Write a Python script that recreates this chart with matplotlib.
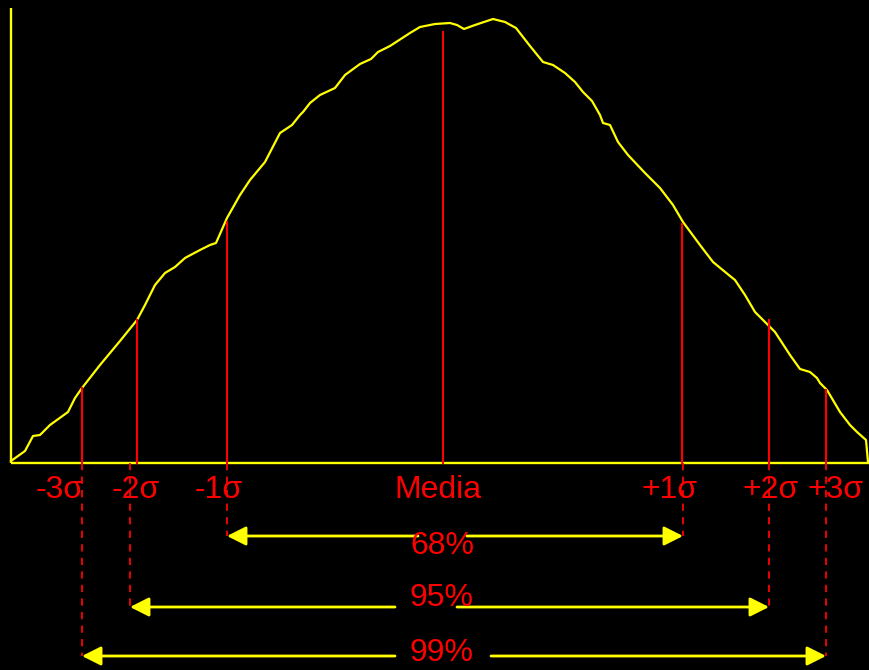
import matplotlib.pyplot as plt
import numpy as np

# curve: x position, height above the baseline
curve_x = [11, 25, 33, 40, 50, 68, 75, 82, 100, 120, 137, 145, 155, 165, 175, 185,
           200, 210, 216, 227, 240, 250, 265, 280, 292, 300, 303, 310, 320, 335, 345,
           360, 371, 378, 390, 410, 420, 435, 450, 457, 464, 475, 493, 505, 516, 530,
           543, 553, 565, 575, 583, 592, 600, 603, 610, 618, 628, 645, 660, 673, 683,
           700, 713, 730, 735, 745, 755, 765, 775, 790, 800, 810, 817, 820, 827, 840,
           850, 857, 866, 868]
curve_h = [2, 12, 27, 28, 38, 51, 65, 75, 98, 122, 143, 158, 178, 190, 196, 205,
           213, 218, 220, 245, 268, 283, 301, 330, 338, 348, 351, 360, 368, 375, 388,
           399, 404, 411, 417, 430, 436, 439, 440, 438, 434, 438, 444, 441, 435, 417,
           401, 398, 390, 381, 371, 362, 348, 340, 338, 321, 308, 290, 275, 258, 241,
           218, 201, 187, 183, 168, 151, 141, 131, 108, 94, 91, 85, 80, 73, 51,
           38, 31, 23, 1]

# vertical markers under the curve
mark_x = [82, 137, 227, 443, 682, 769, 826]
mark_h = [75, 143, 241, 431, 239, 143, 73]
labels = ['-3σ', '-2σ', '-1σ', 'Media', '+1σ', '+2σ', '+3σ']
label_x = [60, 136, 219, 438, 670, 771, 836]

# brackets: percentage, left end, right end, depth below baseline, text gap
pct = ['68%', '95%', '99%']
left_x = [227, 130, 82]
right_x = [683, 769, 826]
depth = [73, 144, 193]
gap_l = [418, 395, 395]
gap_r = [467, 457, 491]
text_depth = [83, 135, 190]

yellow = '#ffff00'
red = '#ff0000'

fig = plt.figure(figsize=(8.7, 6.7), dpi=100, facecolor='black')
ax = fig.add_axes([0, 0, 1, 1])
ax.set_facecolor('black')
ax.set_xlim(0, 870)
ax.set_ylim(-207, 463)
ax.axis('off')

# axes lines
ax.plot([11, 11], [0, 455], color=yellow, lw=1.7, solid_capstyle='butt')
ax.plot([11, 870], [0, 0], color=yellow, lw=1.7, solid_capstyle='butt')

ax.plot(curve_x, curve_h, color=yellow, lw=1.6, solid_joinstyle='round')

for x, h in zip(mark_x, mark_h):
    ax.plot([x, x], [0, h], color=red, lw=1.5)

for lx, rx, d in zip(left_x, right_x, depth):
    for x in (lx, rx):
        ax.plot([x, x], [0, -d], color=red, lw=1.3, dashes=(4, 3.5))

for lab, x in zip(labels, label_x):
    ax.text(x, -27, lab, color=red, fontsize=23, family='Liberation Sans',
            ha='center', va='center')

for p, lx, rx, d, gl, gr, td in zip(pct, left_x, right_x, depth, gap_l, gap_r, text_depth):
    style = '-|>,head_length=1.15,head_width=0.58'
    ax.annotate('', xy=(lx, -d), xytext=(gl, -d),
                arrowprops=dict(arrowstyle=style, color=yellow, lw=2,
                                shrinkA=0, shrinkB=0))
    ax.annotate('', xy=(rx, -d), xytext=(gr, -d),
                arrowprops=dict(arrowstyle=style, color=yellow, lw=2,
                                shrinkA=0, shrinkB=0))
    ax.text(442, -td, p, color=red, fontsize=23, family='Liberation Sans',
            ha='center', va='center')

fig.savefig('out.png', dpi=100, facecolor='black')
